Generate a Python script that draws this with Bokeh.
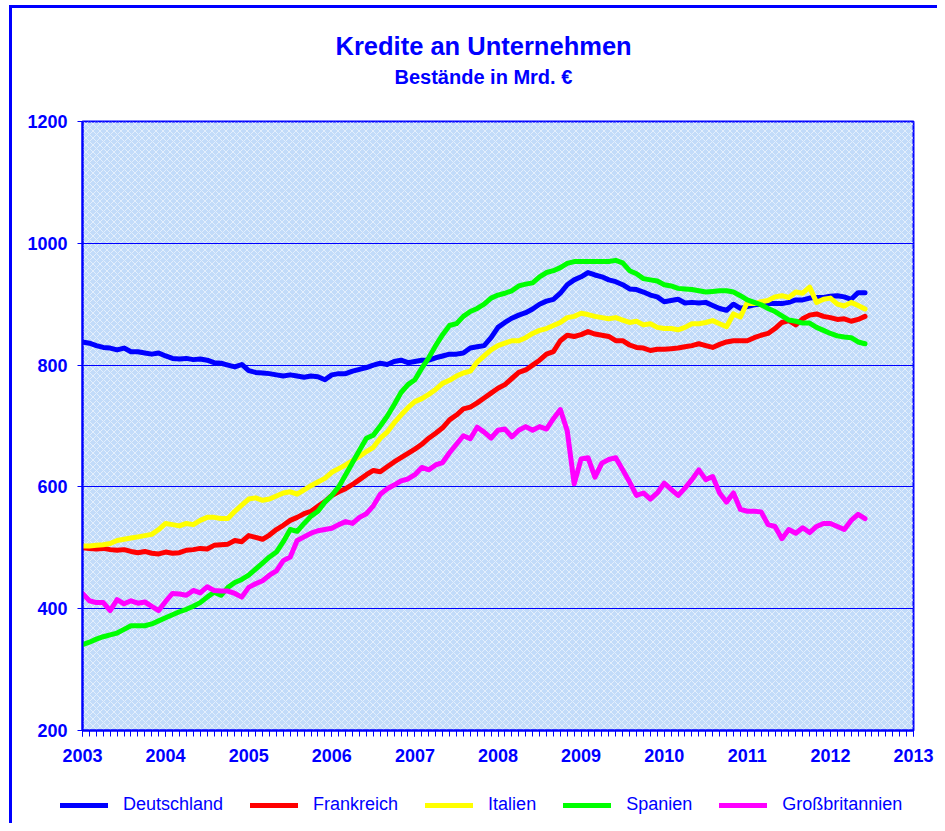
from bokeh.plotting import figure
from bokeh.models import FixedTicker, BoxAnnotation, Legend, LegendItem, Title, ColumnDataSource
from bokeh.layouts import column
from bokeh.embed import file_html
from bokeh.resources import INLINE

# ---------------- data (monthly stocks, bn EUR) ----------------
start_year = 2003
year_ticks = list(range(2003, 2014))
y_ticks = [200, 400, 600, 800, 1000, 1200]

deutschland = [838, 836, 832, 829, 828, 825, 828, 822, 822, 820, 818, 820,
               815, 811, 810, 811, 809, 810, 808, 804, 803, 800, 797, 801,
               791, 788, 787, 786, 784, 782, 784, 782, 780, 782, 781, 776,
               784, 786, 786, 790, 793, 796, 800, 803, 801, 806, 808, 804,
               806, 808, 808, 812, 815, 818, 818, 820, 828, 830, 832, 845,
               862, 870, 877, 882, 886, 892, 900, 905, 908, 918, 932, 940,
               945, 952, 948, 945, 940, 937, 932, 925, 924, 920, 915, 912,
               904, 906, 908, 902, 903, 902, 903, 898, 893, 890, 900, 893,
               896, 899, 900, 901, 901, 901, 903, 907, 907, 910, 911, 911,
               913, 914, 912, 908, 919, 919]

frankreich = [500, 499, 498, 499, 497, 496, 497, 494, 492, 494, 491, 490,
              493, 491, 492, 496, 497, 499, 498, 504, 505, 506, 512, 510,
              520, 517, 514, 521, 530, 537, 545, 550, 556, 560, 568, 576,
              586, 592, 597, 604, 612, 620, 627, 625, 633, 641, 648, 655,
              662, 670, 680, 688, 697, 710, 718, 728, 731, 738, 746, 754,
              762, 768, 778, 788, 792, 800, 808, 818, 822, 840, 849, 847,
              850, 855, 851, 849, 847, 840, 840, 833, 829, 828, 824, 826,
              826, 827, 828, 830, 832, 835, 832, 829, 834, 838, 840, 840,
              840, 845, 849, 852, 860, 870, 873, 866, 876, 882, 884, 880,
              878, 875, 876, 872, 875, 880]

italien = [503, 503, 504, 505, 507, 512, 514, 516, 518, 520, 522, 530,
           540, 538, 536, 540, 538, 545, 550, 550, 548, 548, 560, 570,
           580, 582, 578, 580, 585, 590, 592, 588, 595, 602, 608, 614,
           624, 630, 636, 643, 650, 658, 665, 680, 690, 705, 718, 730,
           740, 745, 752, 760, 770, 775, 782, 787, 790, 805, 815, 825,
           832, 836, 840, 840, 845, 852, 857, 860, 865, 870, 878, 880,
           885, 883, 880, 878, 876, 878, 874, 870, 872, 866, 868, 862,
           860, 860, 858, 862, 868, 868, 870, 873, 868, 863, 884, 879,
           903, 901, 904, 906, 912, 914, 911, 920, 918, 928, 903, 908,
           910, 900, 897, 903, 898, 892]

spanien = [341, 345, 350, 354, 357, 360, 366, 372, 372, 372, 375, 380,
           385, 390, 395, 399, 404, 410, 419, 427, 422, 435, 443, 448,
           455, 465, 475, 485, 493, 510, 530, 527, 540, 552, 560, 575,
           586, 600, 620, 640, 660, 680, 685, 700, 716, 735, 755, 768,
           776, 795, 812, 832, 850, 865, 868, 880, 888, 893, 900, 910,
           915, 918, 922, 930, 933, 935, 945, 952, 955, 960, 967, 970,
           970, 970, 970, 970, 970, 972, 968, 955, 950, 942, 940, 938,
           932, 930, 926, 925, 924, 922, 920, 921, 922, 922, 920, 914,
           907, 903, 899, 893, 888, 881, 874, 872, 869, 869, 862, 857,
           852, 848, 846, 845, 838, 835]

grossbritannien = [425, 413, 410, 410, 397, 415, 408, 413, 409, 411, 404, 397,
                   412, 425, 424, 422, 430, 426, 436, 430, 429, 429, 425, 419,
                   435, 441, 446, 455, 462, 479, 485, 512, 518, 524, 528, 530,
                   532, 538, 543, 540, 550, 556, 569, 588, 597, 603, 610, 613,
                   620, 632, 628, 636, 640, 656, 670, 684, 679, 698, 690, 680,
                   693, 695, 682, 693, 699, 693, 699, 695, 712, 727, 692, 605,
                   646, 648, 616, 639, 645, 648, 628, 608, 586, 590, 580, 590,
                   606, 596, 586, 598, 612, 628, 612, 617, 590, 575, 590, 563,
                   560, 560, 559, 538, 535, 515, 530, 524, 533, 525, 535, 540,
                   540, 535, 530, 545, 555, 548]

series_names = ["Deutschland", "Frankreich", "Italien", "Spanien", "Großbritannien"]
series_values = [deutschland, frankreich, italien, spanien, grossbritannien]
series_colors = ["#0000ff", "#ff0000", "#ffff00", "#00ff00", "#ff00ff"]

x_months = [start_year + i / 12 for i in range(len(deutschland))]

BLUE = "#0000ff"
FONT = "Liberation Sans"

# ---------------- main chart ----------------
p = figure(width=925, height=762, x_range=(2003, 2013), y_range=(200, 1200),
           output_backend="svg", toolbar_location=None, title=None,
           min_border_left=70, min_border_right=24, min_border_top=113,
           min_border_bottom=40, background_fill_color="#c2dbf9",
           border_fill_color="white")

bg = BoxAnnotation(fill_alpha=0, hatch_pattern="diagonal_cross", hatch_color="white",
                   hatch_alpha=0.55, hatch_scale=7, hatch_weight=1, line_alpha=0,
                   level="image")
p.add_layout(bg)

p.add_layout(Title(text=" ", text_font_size="1px", standoff=29), "above")
p.add_layout(Title(text="Bestände in Mrd. €", align="left", text_color=BLUE,
                   text_font=FONT, text_font_size="20px", text_font_style="bold",
                   offset=312, standoff=4), "above")
p.add_layout(Title(text="Kredite an Unternehmen", align="left", text_color=BLUE,
                   text_font=FONT, text_font_size="25.5px", text_font_style="bold",
                   offset=253, standoff=3), "above")

for name, vals, col in zip(series_names, series_values, series_colors):
    src = ColumnDataSource(dict(x=x_months, y=vals))
    p.line("x", "y", source=src, line_color=col, line_width=5,
           line_join="round", line_cap="round")

p.yaxis.ticker = FixedTicker(ticks=y_ticks)
p.xaxis.ticker = FixedTicker(ticks=year_ticks,
                             minor_ticks=[start_year + i / 12 for i in range(121)])
for ax in (p.xaxis, p.yaxis):
    ax.major_label_text_font = FONT
    ax.major_label_text_font_size = "18px"
    ax.major_label_text_font_style = "bold"
    ax.major_label_text_color = BLUE
    ax.axis_line_color = BLUE
    ax.axis_line_width = 2
    ax.major_tick_line_color = BLUE
    ax.minor_tick_line_color = BLUE
    ax.major_tick_in = 0
    ax.minor_tick_in = 0
p.yaxis.major_tick_out = 5
p.yaxis.minor_tick_line_color = None
p.yaxis.major_label_standoff = 10
p.xaxis.major_tick_out = 6
p.xaxis.minor_tick_out = 6
p.xaxis.major_label_standoff = 12

p.ygrid.grid_line_color = BLUE
p.ygrid.grid_line_width = 1
p.xgrid.grid_line_color = None
p.outline_line_color = BLUE
p.outline_line_width = 2

# ---------------- legend strip (series drawn off-canvas, only the legend shows) ----
lg = figure(width=925, height=53, output_backend="svg", toolbar_location=None,
            x_axis_type=None, y_axis_type=None, min_border=0,
            x_range=(0, 1), y_range=(0, 1),
            border_fill_color="white", background_fill_color="white")
lg.frame_align = False
lg.outline_line_color = None
lg.xgrid.grid_line_color = None
lg.ygrid.grid_line_color = None
items = []
for name, vals, col in zip(series_names, series_values, series_colors):
    r = lg.line(x=x_months, y=vals, line_color=col, line_width=5, line_cap="round")
    items.append(LegendItem(label=name, renderers=[r]))
legend = Legend(items=items, orientation="horizontal", location=(48, 8),
                glyph_width=48, glyph_height=20, label_standoff=15, spacing=27,
                padding=0, margin=0, border_line_alpha=0, background_fill_alpha=0,
                label_text_font=FONT, label_text_font_size="18px",
                label_text_color=BLUE)
lg.add_layout(legend, "center")

layout = column(p, lg, spacing=0,
                styles={"margin-left": "9px", "margin-top": "5px",
                        "border-left": "3px solid #0000ff",
                        "border-top": "3px solid #0000ff"})

open("out.html", "w").write(file_html(layout, INLINE))
